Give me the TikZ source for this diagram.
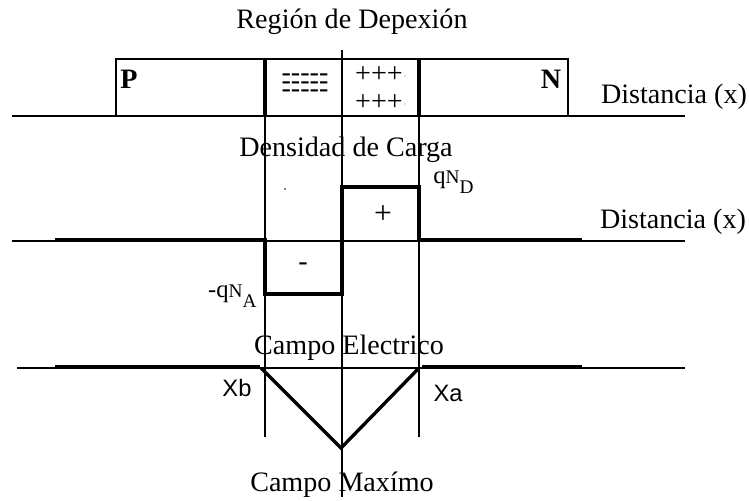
\documentclass[tikz,border=0pt]{standalone}
\usepackage{fontspec}
\setmainfont{Liberation Serif}
\newfontfamily\etiqsans{Liberation Sans}
\usetikzlibrary{positioning}

\newcommand\filaneg{-{}-{}-{}-{}-}

\begin{document}
\begin{tikzpicture}[x=0.02cm,y=-0.02cm,
    thinln/.style={line width=0.6pt},
    wall/.style={line width=1.8pt},
    heavy/.style={line width=2.3pt},
    vee/.style={line width=1.9pt,line join=miter},
    txt/.style={inner sep=0pt,font=\fontsize{16}{18}\selectfont},
    small/.style={inner sep=0pt,font=\fontsize{14}{16}\selectfont},
    sans/.style={inner sep=0pt,font=\etiqsans\fontsize{13.5}{15}\selectfont}]
  \useasboundingbox (0,0) rectangle (749,500);
  % union P-N
  \node[txt] (titulo) at (352,22) {Región de Depexión};
  \draw[thinln] (116,59) rectangle (568,116);
  \draw[wall] (265,59) -- (265,116);
  \draw[wall] (419,59) -- (419,116);
  \draw[thinln] (12,116) -- (685,116);
  \node[txt,font=\fontsize{16}{18}\selectfont\bfseries] (tipoP) at (129,79) {P};
  \node[txt,font=\fontsize{16}{18}\selectfont\bfseries] (tipoN) at (551,79) {N};
  \node[txt] (menos) at (305,86)
    {\rlap{\raisebox{4.5pt}{\filaneg}}\rlap{\filaneg}\raisebox{-4.5pt}{\filaneg}};
  \node[txt,align=center,font=\fontsize{16}{15.9}\selectfont] (mas) at (379,89)
    {+++\\+++};
  \fill[gray] (405,76) circle (0.7) (405,104) circle (0.7);
  \node[txt] (dist1) at (674,97) {Distancia (x)};
  % guias verticales
  \draw[thinln] (342,50) -- (342,497);
  \draw[thinln] (265,116) -- (265,437);
  \draw[thinln] (419,116) -- (419,437);
  % densidad de carga
  \node[txt] (densidad) at (346,150) {Densidad de Carga};
  \draw[thinln] (12,241) -- (685,241);
  \draw[heavy] (55,240) -- (265,240) -- (265,294) -- (342,294)
    -- (342,187) -- (419,187) -- (419,240) -- (582,240);
  \draw[line width=1.1pt] (327,241) -- (342,241);
  \fill (285,189) circle (0.8);
  \node[txt] (signo1) at (303,267) {-};
  \node[txt,font=\fontsize{18}{20}\selectfont] (signo2) at (383,215) {+};
  \node[small,anchor=base west] (qnd) at (433,183)
    {q{\fontsize{11}{13}\selectfont N\raisebox{-6pt}{D}}};
  \node[small,anchor=base east] (qna) at (257,297)
    {-q{\fontsize{11}{13}\selectfont N\raisebox{-6pt}{A}}};
  \node[txt] (dist2) at (673,222) {Distancia (x)};
  % campo electrico
  \node[txt] (campo) at (349,348) {Campo Electrico};
  \draw[thinln] (17,368) -- (685,368);
  \draw[heavy] (55,367) -- (260,367);
  \draw[heavy] (422,367) -- (582,367);
  \draw[vee] (261,368) -- (341,448) -- (419,368);
  \node[sans] (xb) at (237,388) {Xb};
  \node[sans] (xa) at (448,393) {Xa};
  \node[txt] (maximo) at (342,485) {Campo Maxímo};
\end{tikzpicture}
\end{document}
